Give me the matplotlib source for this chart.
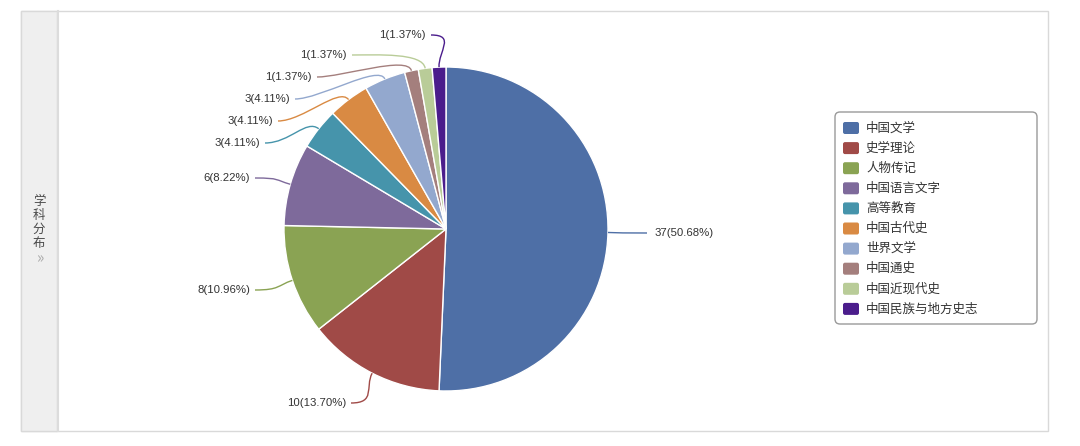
import numpy as np
import matplotlib.pyplot as plt
from matplotlib.patches import Rectangle, FancyBboxPatch, PathPatch
from matplotlib.path import Path

plt.rcParams['font.family'] = ['Noto Sans CJK SC', 'DejaVu Sans']

# dados
categorias = ['中国文学', '史学理论', '人物传记', '中国语言文字', '高等教育',
              '中国古代史', '世界文学', '中国通史', '中国近现代史', '中国民族与地方史志']
valores = [37, 10, 8, 6, 3, 3, 3, 1, 1, 1]
cores = ['#4E6FA6', '#A04A47', '#8AA353', '#7E6A9B', '#4694AB',
         '#D98A43', '#93A8CE', '#A47F7D', '#B9CC98', '#4B1D8C']

# layout dos rótulos (pixels da imagem): y do texto e x da ponta do texto
rotulo_y = [233, 403, 290, 178, 143, 121, 99, 77, 55, 35]
rotulo_x = [655, 346, 250, 250, 260, 273, 290, 312, 347, 426]

W, H = 1080, 446
fig = plt.figure(figsize=(W / 100, H / 100), dpi=100)
ax = fig.add_axes([0, 0, 1, 1])

def py(y):
    return H - y

# moldura
ax.add_patch(Rectangle((21, py(431)), 1027, 420, facecolor='white', edgecolor='#d9d9d9', lw=1, zorder=0))
ax.add_patch(Rectangle((21, py(431)), 36, 420, facecolor='#efefef', edgecolor='#d9d9d9', lw=1, zorder=1))
ax.plot([57.5, 57.5], [py(431), py(11)], color='#dcdcdc', lw=1.5, zorder=2)
for i, ch in enumerate('学科分布'):
    ax.text(39, py(201 + i * 14), ch, ha='center', va='center', fontsize=9, color='#4a4a4a',
            fontweight='medium', zorder=3)
ax.text(40, py(259), '»', ha='center', va='center', fontsize=11, color='#aaaaaa', zorder=3)

# pizza
cx, cy, r = 446, py(229), 162
total = sum(valores)
ax.pie(valores, colors=cores, startangle=90, counterclock=False, center=(cx, cy), radius=r,
       wedgeprops=dict(edgecolor='white', linewidth=1), frame=True)

cum = np.cumsum(valores) - np.array(valores) / 2
for i, v in enumerate(valores):
    ang = np.deg2rad(90 - 360 * cum[i] / total)
    d = np.array([np.cos(ang), np.sin(ang)])
    p0 = np.array([cx, cy]) + r * d
    lado = 1 if i == 0 else -1
    ty = py(rotulo_y[i])
    if lado == 1:
        p3 = np.array([rotulo_x[i] - 8, ty])
    else:
        p3 = np.array([rotulo_x[i] + 5, ty])
    c1 = p0 + 16 * d
    c2 = np.array([p3[0] - lado * 25, ty])
    path = Path([p0, c1, c2, p3], [Path.MOVETO, Path.CURVE4, Path.CURVE4, Path.CURVE4])
    ax.add_patch(PathPatch(path, facecolor='none', edgecolor=cores[i], lw=1, zorder=4))
    txt = f'{v}({100 * v / total:.2f}%)'
    ax.text(rotulo_x[i], ty, txt, ha='left' if lado == 1 else 'right', va='center',
            fontsize=8.2, color='#333333', family='Liberation Sans', zorder=5)

# legenda
ax.add_patch(FancyBboxPatch((835, py(324)), 202, 212, boxstyle='round,pad=0,rounding_size=5',
                            facecolor='white', edgecolor='#9a9a9a', lw=1, zorder=3))
for i, nome in enumerate(categorias):
    y = py(128 + i * 20.1)
    ax.add_patch(FancyBboxPatch((843, y - 6), 16, 12, boxstyle='round,pad=0,rounding_size=2',
                                facecolor=cores[i], edgecolor='none', zorder=4))
    ax.text(866, y, nome, ha='left', va='center', fontsize=9, color='#333333', zorder=5)

ax.set_xlim(0, W)
ax.set_ylim(0, H)
ax.set_aspect('auto')
ax.axis('off')

plt.savefig('out.png', dpi=100)
